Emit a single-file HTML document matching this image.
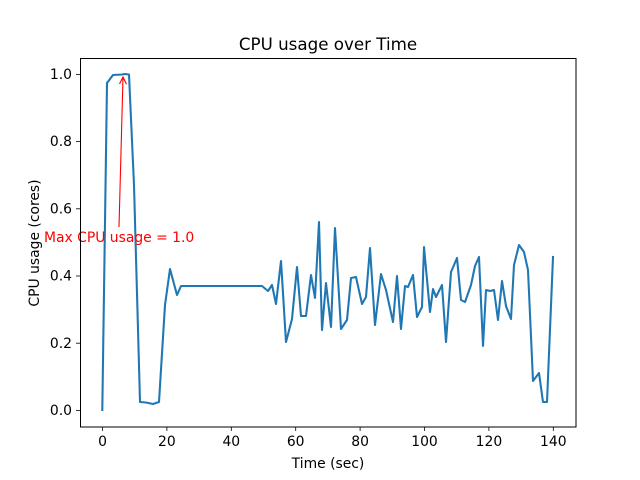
<!DOCTYPE html>
<html><head><meta charset="utf-8"><style>body{margin:0;background:#fff}svg{display:block}text{font-family:"DejaVu Sans","Liberation Sans",sans-serif}</style></head><body>
<svg width="640" height="480" viewBox="0 0 640 480" xmlns="http://www.w3.org/2000/svg">
<rect width="640" height="480" fill="#fff"/>
<text x="328" y="50" font-size="16.7" text-anchor="middle">CPU usage over Time</text>
<polyline fill="none" stroke="#1f77b4" stroke-width="2.08" stroke-linejoin="round" stroke-linecap="square" points="102.3,410 107,83 113,75 122,74.5 125,74 129,74.5 134,185 140,402 146,402.5 153,404 159,402 165,305 170,269 177,295 181,286 262,286 268,291 272,285 276,304 281,261 286,342 292,319 297,267 301,316 306,316 311,275 315,298 319,222 322,330 326,283 331,327 335,228 341,329 347,320 351,278 356,277 362,304 366,297 370,248 375,325 381,274 386,290 393,322 397,276 401,329 405,286 408,287 413,275 417,317 422,307 424,247 430,312 433,289 436,297 442,285 446,342 451,272 457,258 461,300 465,302 471,285 475,266 479,257 483,346 486,290 490,291 494,290 498,320 502,281 506,306 511,319 514,265 519,245 524,252 528,270 533,381 539,373 543,402 547,402 553,257"/>
<line x1="119" y1="227" x2="123" y2="77" stroke="red" stroke-width="1.1"/>
<polyline points="119.5,84 123,77 126.5,84.2" fill="none" stroke="red" stroke-width="1.1"/>
<text x="44" y="242" font-size="13.9" fill="red">Max CPU usage = 1.0</text>
<rect x="80.5" y="58.5" width="495.5" height="368.5" fill="none" stroke="#000" stroke-width="1"/>
<g stroke="#000" stroke-width="0.8">
<line x1="102.5" y1="427" x2="102.5" y2="431"/><line x1="166.9" y1="427" x2="166.9" y2="431"/><line x1="231.3" y1="427" x2="231.3" y2="431"/><line x1="295.7" y1="427" x2="295.7" y2="431"/><line x1="360.1" y1="427" x2="360.1" y2="431"/><line x1="424.5" y1="427" x2="424.5" y2="431"/><line x1="488.9" y1="427" x2="488.9" y2="431"/><line x1="553.3" y1="427" x2="553.3" y2="431"/>
<line x1="76" y1="410.4" x2="80" y2="410.4"/><line x1="76" y1="343.2" x2="80" y2="343.2"/><line x1="76" y1="276" x2="80" y2="276"/><line x1="76" y1="208.8" x2="80" y2="208.8"/><line x1="76" y1="141.6" x2="80" y2="141.6"/><line x1="76" y1="74.4" x2="80" y2="74.4"/>
</g>
<g font-size="13.9" text-anchor="middle">
<text x="102.5" y="446">0</text><text x="166.9" y="446">20</text><text x="231.3" y="446">40</text><text x="295.7" y="446">60</text><text x="360.1" y="446">80</text><text x="424.5" y="446">100</text><text x="488.9" y="446">120</text><text x="553.3" y="446">140</text>
</g>
<g font-size="13.9" text-anchor="end">
<text x="72" y="415">0.0</text><text x="72" y="347.8">0.2</text><text x="72" y="280.6">0.4</text><text x="72" y="213.4">0.6</text><text x="72" y="146.2">0.8</text><text x="72" y="79">1.0</text>
</g>
<text x="328" y="468" font-size="13.9" text-anchor="middle">Time (sec)</text>
<text transform="translate(39,243) rotate(-90)" font-size="13.9" text-anchor="middle">CPU usage (cores)</text>
</svg>
</body></html>
